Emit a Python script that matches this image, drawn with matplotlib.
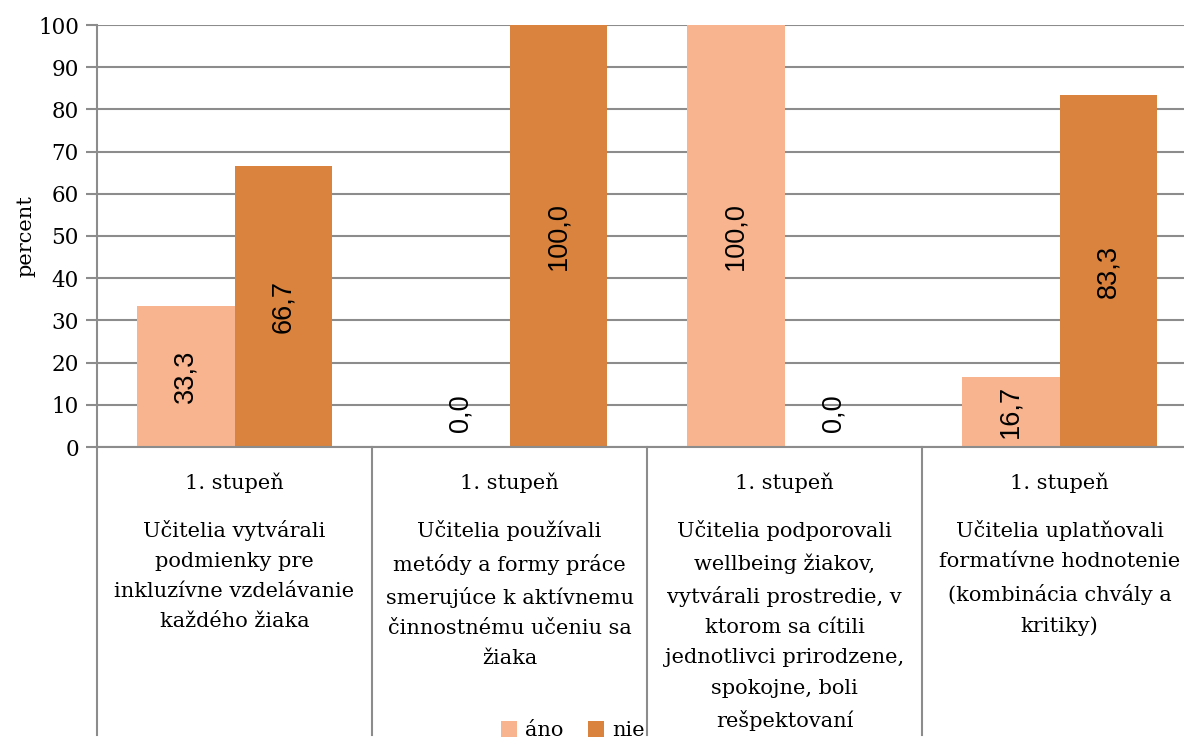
import matplotlib
matplotlib.use("Agg")
import matplotlib.pyplot as plt
import numpy as np

# data
skupiny = ["1. stupeň"] * 4
kategorie = [
    "Učitelia vytvárali\npodmienky pre\ninkluzívne vzdelávanie\nkaždého žiaka",
    "Učitelia používali\nmetódy a formy práce\nsmerujúce k aktívnemu\nčinnostnému učeniu sa\nžiaka",
    "Učitelia podporovali\nwellbeing žiakov,\nvytvárali prostredie, v\nktorom sa cítili\njednotlivci prirodzene,\nspokojne, boli\nrešpektovaní",
    "Učitelia uplatňovali\nformatívne hodnotenie\n(kombinácia chvály a\nkritiky)",
]
ano = [33.3, 0.0, 100.0, 16.7]
nie = [66.7, 100.0, 0.0, 83.3]
yticks = list(range(0, 101, 10))

c_ano = "#F8B48F"
c_nie = "#D9833E"
grid_c = "#8C8C8C"
serif = "DejaVu Serif"

W, H = 1184, 744
fig = plt.figure(figsize=(W / 100, H / 100), dpi=100)
ax = fig.add_axes([97 / W, 1 - 447 / H, (1197 - 97) / W, (447 - 25) / H])

x = np.arange(len(kategorie)) + 0.5
w = 0.356
b1 = ax.bar(x - w / 2, ano, w, color=c_ano, label="áno", zorder=2)
b2 = ax.bar(x + w / 2, nie, w, color=c_nie, label="nie", zorder=2)

for bars, vals in ((b1, ano), (b2, nie)):
    for r, v in zip(bars, vals):
        lab = f"{v:.1f}".replace(".", ",")
        cx = r.get_x() + r.get_width() / 2
        if v > 0:
            ax.text(cx, v / 2, lab, rotation=90, ha="center", va="center",
                    fontsize=19.5, family="Liberation Sans", zorder=3)
        else:
            ax.annotate(lab, (cx, 0), xytext=(0, 11), textcoords="offset points",
                        rotation=90, ha="center", va="bottom",
                        fontsize=19.5, family="Liberation Sans", zorder=3)

ax.set_xlim(0, len(kategorie))
ax.set_ylim(0, 100)
ax.set_yticks(yticks)
ax.set_yticklabels([str(t) for t in yticks], family=serif, fontsize=15.5)
ax.tick_params(axis="y", length=8, width=1.5, color=grid_c, pad=5)
ax.set_xticks([])
ax.yaxis.grid(True, color=grid_c, linewidth=1.5, zorder=0)
ax.set_axisbelow(True)
for s in ["top", "right"]:
    ax.spines[s].set_visible(False)
ax.spines["left"].set_color(grid_c)
ax.spines["left"].set_linewidth(1.5)
ax.spines["bottom"].set_color(grid_c)
ax.spines["bottom"].set_linewidth(1.5)
ax.set_ylabel("percent", family=serif, fontsize=15, labelpad=2)

# separators of the category axis
tr = ax.get_xaxis_transform()
dolu = -(735 - 447) / (447 - 25)
for i in range(len(kategorie) + 1):
    ax.plot([i, i], [0, dolu], transform=tr, color=grid_c, lw=1.5, clip_on=False)

for xi, g, k in zip(x, skupiny, kategorie):
    ax.text(xi, -(483 - 447) / 422, g, transform=tr, ha="center", va="center",
            family=serif, fontsize=15)
    ax.text(xi, -(520 - 447) / 422, k, transform=tr, ha="center", va="top",
            family=serif, fontsize=15, linespacing=1.74)

leg = fig.legend(loc="lower center", bbox_to_anchor=(573 / W, -15 / H), ncol=2,
                 frameon=False, prop={"family": serif, "size": 15},
                 handlelength=0.75, handleheight=0.75, handletextpad=0.4,
                 columnspacing=1.2)

fig.savefig("out.png", dpi=100)
